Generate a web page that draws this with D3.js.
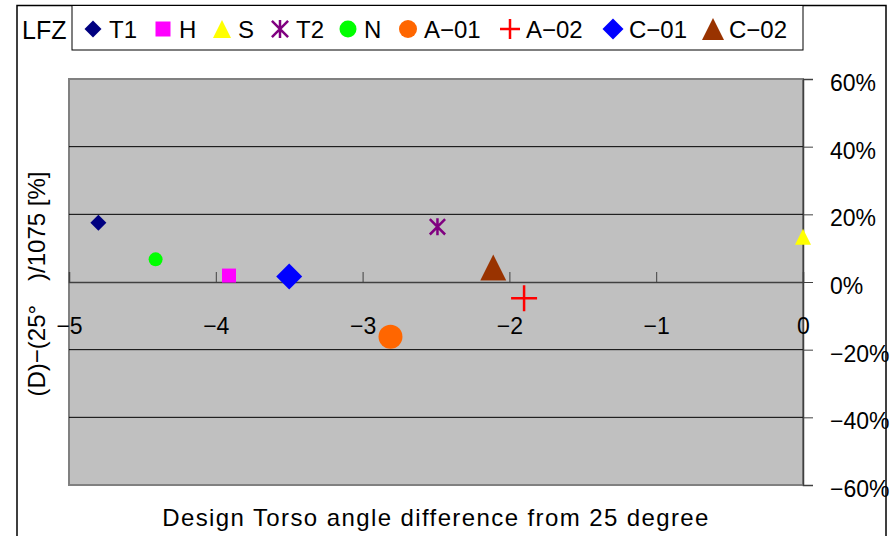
<!DOCTYPE html>
<html>
<head>
<meta charset="utf-8">
<script src="https://cdn.jsdelivr.net/npm/d3@7"></script>
<style>
  body { margin: 0; background: #fff; }
  text { font-family: "Liberation Sans", Arial, sans-serif; fill: #000; }
</style>
</head>
<body>
<svg id="svg1" width="890" height="536"></svg>
<script>
// series, in legend order
var names = ["T1", "H", "S", "T2", "N", "A\u221201", "A\u221202", "C\u221201", "C\u221202"];
var xValues = [-4.80, -3.91, 0.00, -2.49, -4.41, -2.81, -1.90, -3.50, -2.11];
var yValues = [17.5, 1.9, 13.4, 16.3, 6.7, -16.2, -4.8, 1.6, 4.3];
var colors = ["#000080", "#ff00ff", "#ffff00", "#800080", "#00ff00", "#ff6600", "#ff0000", "#0000ff", "#993300"];
var shapes = ["diamond", "square", "triangle", "asterisk", "circle", "circle", "plus", "diamond", "triangle"];
var markSize = [16, 14, 16, 17, 14, 24, 26, 26, 26];
var legendSize = [17, 15, 18, 18, 17, 18, 20, 21, 22];

var xTicks = [-5, -4, -3, -2, -1, 0];
var yTicks = [-60, -40, -20, 0, 20, 40, 60];

function draw() {
    var svg = d3.select("#svg1");
    var pLeft = 69, pRight = 803, pTop = 79, pBottom = 485;

    var x = d3.scaleLinear().domain([-5, 0]).range([pLeft, pRight]);
    var y = d3.scaleLinear().domain([-60, 60]).range([pBottom, pTop]);

    // marker shapes, w = full width in px
    function shapePath(kind, w) {
        var r = w / 2;
        var p = d3.path();
        if (kind == "diamond") {
            p.moveTo(0, -r); p.lineTo(r, 0); p.lineTo(0, r); p.lineTo(-r, 0); p.closePath();
        } else if (kind == "square") {
            p.rect(-r, -r, w, w);
        } else if (kind == "triangle") {
            p.moveTo(0, -r); p.lineTo(r, r); p.lineTo(-r, r); p.closePath();
        } else if (kind == "circle") {
            p.arc(0, 0, r, 0, 2 * Math.PI);
        } else if (kind == "plus") {
            p.moveTo(-r, 0); p.lineTo(r, 0); p.moveTo(0, -r); p.lineTo(0, r);
        } else if (kind == "asterisk") {
            var a = r * 0.9;
            p.moveTo(0, -r); p.lineTo(0, r);
            p.moveTo(-a, -a); p.lineTo(a, a);
            p.moveTo(-a, a); p.lineTo(a, -a);
        }
        return p.toString();
    }
    function isLine(kind) { return kind == "plus" || kind == "asterisk"; }

    // outer frame
    svg.append("rect")
        .attr("x", 17).attr("y", 5.5)
        .attr("width", 869).attr("height", 540)
        .attr("fill", "none").attr("stroke", "#000").attr("stroke-width", 1.5);

    // plot area
    svg.append("rect")
        .attr("x", pLeft).attr("y", pTop)
        .attr("width", pRight - pLeft).attr("height", pBottom - pTop)
        .attr("fill", "#c0c0c0").attr("stroke", "#808080").attr("stroke-width", 2);

    // gridlines
    svg.append("g").selectAll("line").data(yTicks.filter(d => d != 0 && d != 60 && d != -60)).enter().append("line")
        .attr("x1", pLeft).attr("x2", pRight)
        .attr("y1", d => y(d)).attr("y2", d => y(d))
        .attr("stroke", "#000").attr("stroke-width", 1);

    // right y axis
    var yAxis = svg.append("g")
        .attr("transform", "translate(" + pRight + ",0)")
        .call(d3.axisRight(y).tickValues(yTicks).tickSize(10).tickPadding(17)
            .tickFormat(d => (d < 0 ? "\u2212" + (-d) : d) + "%"));
    yAxis.select(".domain").attr("stroke", "#404040").attr("stroke-width", 1.5);
    yAxis.selectAll(".tick line").attr("stroke", "#404040");
    yAxis.selectAll("text").attr("font-size", 23).attr("dy", "0.5em")
        .style("font-family", "Liberation Sans, Arial, sans-serif");

    // x axis along y = 0, ticks pointing up
    var xAxis = svg.append("g")
        .attr("transform", "translate(0," + y(0) + ")")
        .call(d3.axisTop(x).tickValues(xTicks).tickSize(10)
            .tickFormat(d => d < 0 ? "\u2212" + (-d) : d));
    xAxis.select(".domain").attr("stroke", "#404040").attr("stroke-width", 1.5);
    xAxis.selectAll(".tick line").attr("stroke", "#404040");
    xAxis.selectAll("text").attr("font-size", 23).attr("y", 52).attr("dy", 0)
        .style("font-family", "Liberation Sans, Arial, sans-serif");

    // points
    svg.append("g").selectAll("path").data(names).enter().append("path")
        .attr("transform", (d, i) => "translate(" + x(xValues[i]) + "," + y(yValues[i]) + ")")
        .attr("d", (d, i) => shapePath(shapes[i], markSize[i]))
        .attr("fill", (d, i) => isLine(shapes[i]) ? "none" : colors[i])
        .attr("stroke", (d, i) => isLine(shapes[i]) ? colors[i] : "none")
        .attr("stroke-width", 2.5);

    // axis titles
    svg.append("text")
        .attr("x", 436).attr("y", 526)
        .attr("text-anchor", "middle").attr("font-size", 24)
        .attr("letter-spacing", 1.4)
        .text("Design Torso angle difference from 25 degree");
    svg.append("text")
        .attr("transform", "translate(45,284) rotate(-90)")
        .attr("text-anchor", "middle").attr("font-size", 24)
        .text("(D)\u2212(25\u00b0\u3000)/1075 [%]");

    // chart title
    svg.append("text")
        .attr("x", 22).attr("y", 39).attr("font-size", 25)
        .text("LFZ");

    // legend
    svg.append("rect")
        .attr("x", 72).attr("y", 5.5).attr("width", 731).attr("height", 44.5)
        .attr("fill", "#fff").attr("stroke", "#000").attr("stroke-width", 1);

    var legendX = [93, 163, 222, 280, 348, 408, 510, 613, 713];
    var legendItems = svg.append("g").selectAll("g").data(names).enter().append("g")
        .attr("transform", (d, i) => "translate(" + legendX[i] + ",29)");
    legendItems.append("path")
        .attr("d", (d, i) => shapePath(shapes[i], legendSize[i]))
        .attr("fill", (d, i) => isLine(shapes[i]) ? "none" : colors[i])
        .attr("stroke", (d, i) => isLine(shapes[i]) ? colors[i] : "none")
        .attr("stroke-width", 2.5);
    legendItems.append("text")
        .attr("x", 16)
        .attr("y", 9)
        .attr("font-size", 24)
        .text(d => d);
}
draw();
</script>
</body>
</html>
